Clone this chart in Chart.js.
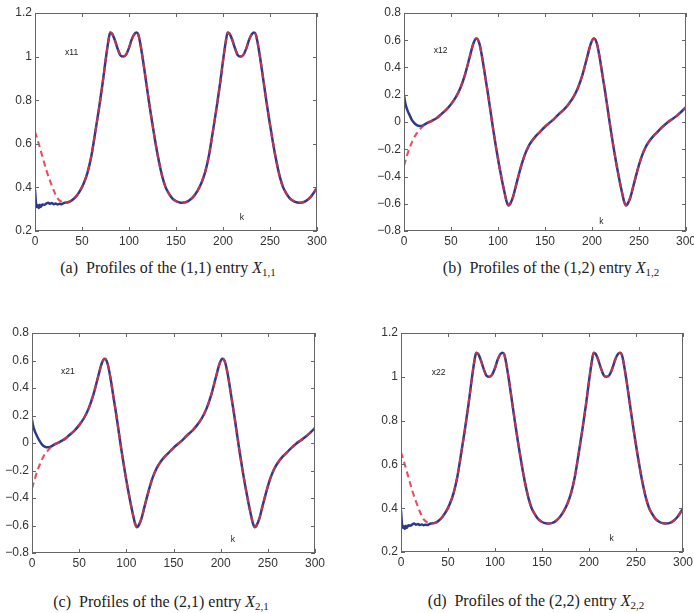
<!DOCTYPE html>
<html>
<head>
<meta charset="utf-8">
<script src="https://cdn.jsdelivr.net/npm/chart.js@4.4.1/dist/chart.umd.min.js"></script>
<style>
  body { margin: 0; background: #fff; width: 694px; height: 613px; overflow: hidden; position: relative; }
  canvas { position: absolute; }
  .cap {
    position: absolute; white-space: nowrap; transform: translate(-50%, -50%);
    font-family: "Liberation Serif", "DejaVu Serif", serif; font-size: 16px; color: #222;
  }
  .cap sub { font-size: 11px; vertical-align: -3px; line-height: 0; }
</style>
</head>
<body>
<canvas id="c11" width="340" height="250" style="left:0;top:0"></canvas>
<canvas id="c12" width="346" height="250" style="left:364px;top:0"></canvas>
<canvas id="c21" width="340" height="253" style="left:0;top:320px"></canvas>
<canvas id="c22" width="340" height="252" style="left:361px;top:320px"></canvas>

<div class="cap" style="left:168px;top:268px">(a)&nbsp; Profiles of the (1,1) entry <i>X</i><sub>1,1</sub></div>
<div class="cap" style="left:551px;top:268px">(b)&nbsp; Profiles of the (1,2) entry <i>X</i><sub>1,2</sub></div>
<div class="cap" style="left:161px;top:602px">(c)&nbsp; Profiles of the (2,1) entry <i>X</i><sub>2,1</sub></div>
<div class="cap" style="left:536px;top:601px">(d)&nbsp; Profiles of the (2,2) entry <i>X</i><sub>2,2</sub></div>

<script>
// x axis: time step k
const kTicks = [0, 50, 100, 150, 200, 250, 300];

// diagonal entries (x11, x22): part where estimate and true value coincide
const kTail11 = [32,36,40,44,48,52,56,60,64,68,72,75,78,80,82,85,88,91,94,97,100,103,106,108,110,112,115,118,121,124,127,130,133,136,139,142,146,150,154,157,161,165,169,173,177,181,185,189,193,197,200,203,205,207,210,213,216,219,222,225,228,231,233,235,237,240,243,246,249,252,255,258,261,264,267,271,275,279,282,286,290,294,298,300];
const x11Tail = [.330,.333,.343,.36,.385,.42,.47,.545,.65,.76,.88,.98,1.07,1.11,1.105,1.075,1.035,1.005,1.0,1.01,1.04,1.08,1.105,1.11,1.10,1.06,.98,.89,.80,.715,.635,.56,.495,.44,.40,.375,.35,.337,.331,.330,.333,.343,.36,.385,.42,.47,.545,.65,.76,.88,.98,1.07,1.11,1.105,1.075,1.035,1.005,1.0,1.01,1.04,1.08,1.105,1.11,1.10,1.06,.98,.89,.80,.715,.635,.56,.495,.44,.40,.375,.35,.337,.331,.330,.333,.343,.36,.385,.40];

// start of x11 / x22: estimate (blue) and reference (red dashed)
const kEst11 = [0,1,2,3,4,5,6,7,8,10,12,14,16,18,20,22,24,26,28,30];
const x11Est = [.39,.33,.31,.318,.305,.32,.31,.316,.322,.32,.326,.33,.325,.328,.323,.326,.322,.325,.323,.327];
const kRef11 = [0,4,8,12,16,20,24,28];
const x11Ref = [.655,.60,.54,.48,.43,.385,.35,.335];

// off-diagonal entries (x12, x21)
const kTail12 = [30,35,40,45,50,55,60,65,70,74,77,80,83,86,89,92,95,98,101,104,107,109,111,113,116,119,122,125,128,132,136,140,145,150,155,160,165,170,175,180,185,190,195,199,202,205,208,211,214,217,220,223,226,229,232,234,236,238,241,244,247,250,253,257,261,265,270,275,280,285,290,295,300];
const x12Tail = [.01,.03,.06,.09,.13,.18,.25,.35,.48,.58,.612,.58,.48,.35,.22,.08,-.06,-.19,-.31,-.42,-.52,-.58,-.612,-.60,-.55,-.47,-.39,-.315,-.25,-.185,-.14,-.105,-.07,-.035,-.005,.025,.06,.09,.13,.18,.25,.35,.48,.58,.612,.58,.48,.35,.22,.08,-.06,-.19,-.31,-.42,-.52,-.58,-.612,-.60,-.55,-.47,-.39,-.315,-.25,-.185,-.14,-.105,-.07,-.035,-.005,.02,.045,.075,.11];

const kEst12 = [0,1,2,4,6,8,10,12,15,18,21,24,27];
const x12Est = [.20,.15,.12,.08,.05,.02,0,-.015,-.028,-.03,-.022,-.01,0];
const x21Est = [.17,.13,.105,.07,.04,.015,-.005,-.02,-.03,-.03,-.022,-.01,0];
const kRef12 = [0,3,6,9,12,15,18,21,24,27];
const x12Ref = [-.32,-.25,-.19,-.14,-.10,-.07,-.045,-.025,-.01,0];
const x21Ref = [-.33,-.26,-.195,-.145,-.10,-.07,-.045,-.025,-.01,0];

function pts(ks, vs) {
  return ks.map((k, i) => ({ x: k, y: vs[i] }));
}

function fmt(v) {
  const r = Math.round(v * 10) / 10;
  return r < 0 ? '\u2212' + (-r) : String(r);
}

// MATLAB style box with inward ticks, plus the small in-plot labels
const boxPlugin = {
  id: 'box',
  afterDraw(chart, args, opts) {
    const { ctx, chartArea: a, scales: { x, y } } = chart;
    ctx.save();
    ctx.strokeStyle = '#666';
    ctx.lineWidth = 1;
    ctx.strokeRect(a.left + 0.5, a.top + 0.5, a.right - a.left - 1, a.bottom - a.top - 1);
    ctx.beginPath();
    x.ticks.forEach(t => {
      const px = Math.round(x.getPixelForValue(t.value)) + 0.5;
      ctx.moveTo(px, a.bottom); ctx.lineTo(px, a.bottom - 4);
      ctx.moveTo(px, a.top); ctx.lineTo(px, a.top + 4);
    });
    y.ticks.forEach(t => {
      const py = Math.round(y.getPixelForValue(t.value)) + 0.5;
      ctx.moveTo(a.left, py); ctx.lineTo(a.left + 4, py);
      ctx.moveTo(a.right, py); ctx.lineTo(a.right - 4, py);
    });
    ctx.stroke();
    ctx.fillStyle = '#222';
    ctx.font = '8.5px "Liberation Sans", Arial, sans-serif';
    ctx.textAlign = 'center';
    ctx.textBaseline = 'middle';
    ctx.fillText(opts.name, x.getPixelForValue(opts.nameAt[0]), y.getPixelForValue(opts.nameAt[1]));
    ctx.fillText('k', x.getPixelForValue(opts.kAt[0]), y.getPixelForValue(opts.kAt[1]));
    ctx.restore();
  }
};

function makeChart(id, est, ref, yMin, yMax, axisW, axisH, pad, name, nameAt, kAt) {
  new Chart(document.getElementById(id), {
    type: 'line',
    data: {
      datasets: [
        {
          data: ref,
          borderColor: 'rgba(226, 48, 64, 0.85)',
          borderWidth: 2.1,
          borderDash: [6, 4],
          pointRadius: 0,
          cubicInterpolationMode: 'monotone',
          order: 0
        },
        {
          data: est,
          borderColor: '#2b3a8c',
          borderWidth: 2.5,
          pointRadius: 0,
          cubicInterpolationMode: 'monotone',
          order: 1
        }
      ]
    },
    options: {
      responsive: false,
      animation: false,
      devicePixelRatio: 1,
      layout: { padding: pad },
      plugins: {
        legend: { display: false },
        tooltip: { enabled: false },
        box: { name: name, nameAt: nameAt, kAt: kAt }
      },
      scales: {
        x: {
          type: 'linear',
          min: 0, max: 300,
          afterBuildTicks: s => { s.ticks = kTicks.map(v => ({ value: v })); },
          afterFit: s => { s.height = axisH; },
          grid: { display: false, drawTicks: false },
          border: { display: false },
          ticks: { padding: 3, maxRotation: 0, color: '#333', font: { family: 'Liberation Sans', size: 12 } }
        },
        y: {
          min: yMin, max: yMax,
          afterFit: s => { s.width = axisW; },
          grid: { display: false, drawTicks: false },
          border: { display: false },
          ticks: { stepSize: 0.2, padding: 3, color: '#333', font: { family: 'Liberation Sans', size: 12 }, callback: fmt }
        }
      }
    },
    plugins: [boxPlugin]
  });
}

const est11 = pts(kEst11, x11Est).concat(pts(kTail11, x11Tail));
const ref11 = pts(kRef11, x11Ref).concat(pts(kTail11, x11Tail));
const est12 = pts(kEst12, x12Est).concat(pts(kTail12, x12Tail));
const ref12 = pts(kRef12, x12Ref).concat(pts(kTail12, x12Tail));
const est21 = pts(kEst12, x21Est).concat(pts(kTail12, x12Tail));
const ref21 = pts(kRef12, x21Ref).concat(pts(kTail12, x12Tail));

makeChart('c11', est11, ref11, 0.2, 1.2, 35, 19, { top: 13, right: 23 }, 'x11', [39, 1.02], [220, 0.26]);
makeChart('c12', est12, ref12, -0.8, 0.8, 40, 19, { top: 13, right: 24 }, 'x12', [39, 0.52], [210, -0.73]);
makeChart('c21', est21, ref21, -0.8, 0.8, 32, 20, { top: 13, right: 25 }, 'x21', [38, 0.52], [213, -0.70]);
makeChart('c22', est11, ref11, 0.2, 1.2, 40, 20, { top: 13, right: 18 }, 'x22', [40, 1.02], [224, 0.26]);
</script>
</body>
</html>
